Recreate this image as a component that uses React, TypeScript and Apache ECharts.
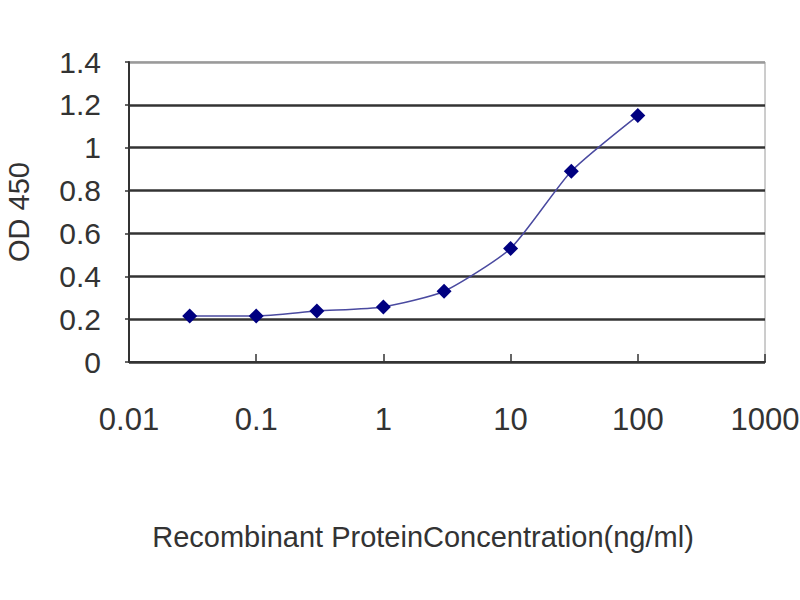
import { useEffect, useRef } from "react";
import * as echarts from "echarts";

// concentration (ng/ml) vs OD 450
const concentrations = [0.03, 0.1, 0.3, 1, 3, 10, 30, 100];
const odValues = [0.215, 0.215, 0.238, 0.257, 0.33, 0.53, 0.89, 1.15];
const xTickLabels = ["0.01", "0.1", "1", "10", "100", "1000"];
const yTickLabels = ["0", "0.2", "0.4", "0.6", "0.8", "1", "1.2", "1.4"];

export default function App() {
  const chartRef = useRef<HTMLDivElement>(null);

  useEffect(() => {
    if (!chartRef.current) return;

    const chart = echarts.init(chartRef.current, undefined, { renderer: "svg" });

    const option: echarts.EChartsOption = {
      animation: false,
      backgroundColor: "#fff",
      grid: {
        left: 129,
        right: 35,
        top: 62,
        bottom: 238,
        outerBoundsMode: "none",
        show: true,
        borderColor: "#9a9a9a",
        borderWidth: 1,
      } as any,
      xAxis: {
        type: "log",
        logBase: 10,
        min: 0.01,
        max: 1000,
        name: "Recombinant ProteinConcentration(ng/ml)",
        nameLocation: "middle",
        nameGap: 160,
        nameTextStyle: {
          fontFamily: "Liberation Sans",
          fontSize: 29,
          color: "#333",
          padding: [0, 48, 0, 0],
        },
        axisLine: { show: true, lineStyle: { color: "#333", width: 2 } },
        axisTick: { show: true, inside: true, length: 8, lineStyle: { color: "#333", width: 1.5 } },
        minorTick: { show: false },
        splitLine: { show: false },
        axisLabel: {
          margin: 42,
          fontFamily: "Liberation Sans",
          fontSize: 31,
          color: "#333",
          formatter: (v: number) => xTickLabels[Math.round(Math.log10(v)) + 2] ?? "",
        },
      },
      yAxis: {
        type: "value",
        min: 0,
        max: 1.4,
        interval: 0.2,
        name: "OD 450",
        nameLocation: "middle",
        nameGap: 96,
        nameRotate: 90,
        nameTextStyle: {
          fontFamily: "Liberation Sans",
          fontSize: 29,
          color: "#333",
        },
        axisLine: { show: true, lineStyle: { color: "#333", width: 2 } },
        axisTick: { show: true, length: 4, lineStyle: { color: "#333", width: 1.5 } },
        splitLine: {
          show: true,
          lineStyle: {
            color: ["#333", "#333", "#333", "#333", "#333", "#333", "#333", "#9a9a9a"],
            width: 2.5,
          },
        },
        axisLabel: {
          margin: 28,
          fontFamily: "Liberation Sans",
          fontSize: 30,
          color: "#333",
          formatter: (v: number) => yTickLabels[Math.round(v / 0.2)] ?? "",
        },
      },
      series: [
        {
          type: "line",
          data: concentrations.map((c, i) => [c, odValues[i]]),
          smooth: 0.2,
          symbol: "diamond",
          symbolSize: 15,
          itemStyle: { color: "#000080" },
          lineStyle: { color: "#4a4aa0", width: 1.5 },
        },
      ],
    };

    chart.setOption(option);

    return () => {
      chart.dispose();
    };
  }, []);

  return (
    <div
      ref={chartRef}
      style={{ position: "absolute", left: 0, top: 0, width: "800px", height: "600px" }}
    />
  );
}
